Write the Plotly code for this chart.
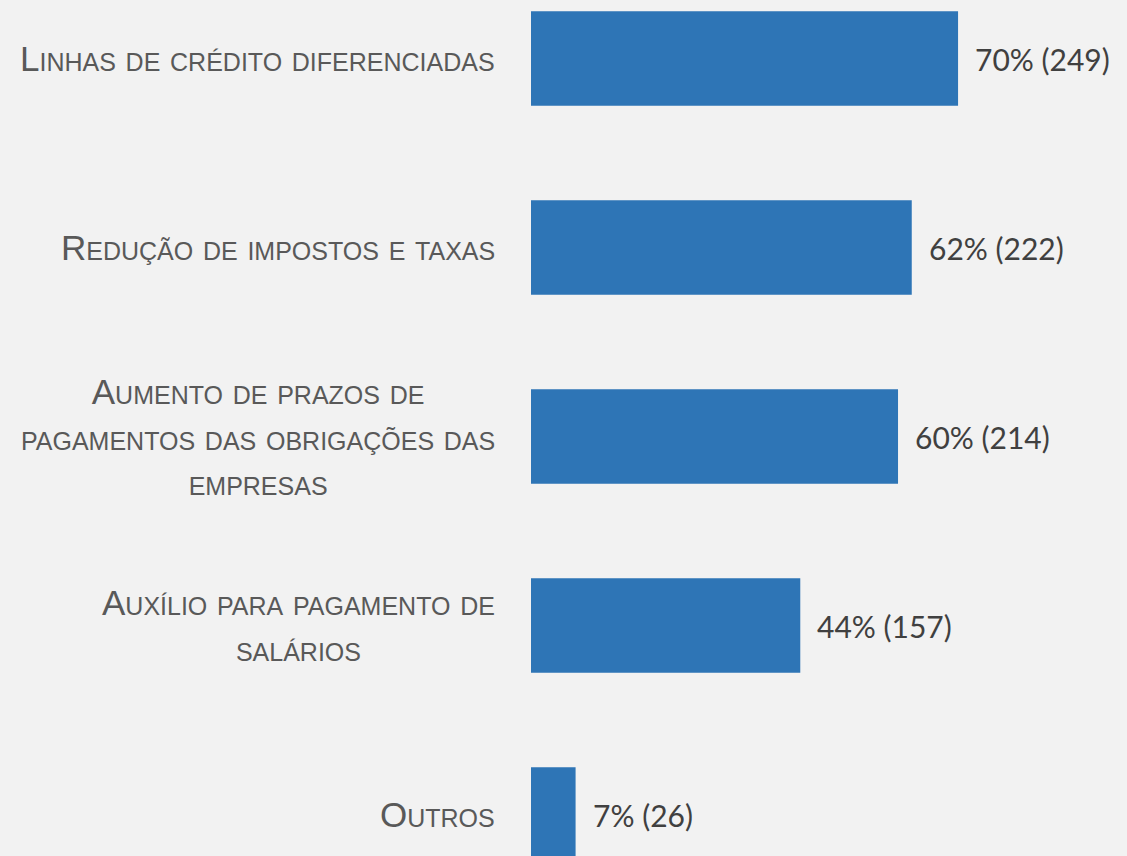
import plotly.graph_objects as go

categories = [
    "Linhas de crédito diferenciadas",
    "Redução de impostos e taxas",
    "Aumento de prazos de<br>pagamentos das obrigações das<br>empresas",
    "Auxílio para pagamento de<br>salários",
    "Outros",
]
counts = [249, 222, 214, 157, 26]
percents = [70, 62, 60, 44, 7]

BAR_COLOR = "#2e75b6"
BG = "#f2f2f2"

fig = go.Figure()
fig.add_trace(go.Bar(
    y=categories, x=counts, orientation="h",
    marker=dict(color=BAR_COLOR, line=dict(width=0)),
    width=0.5, hoverinfo="skip",
))

for cat, c, p in zip(categories, counts, percents):
    fig.add_annotation(
        x=c, y=cat, xref="x", yref="y", text=f"{p}% ({c})",
        showarrow=False, xanchor="left", yanchor="middle", xshift=15,
        font=dict(family="Lato", size=30, color="#404040"),
    )
    fig.add_annotation(
        x=0, y=cat, xref="x", yref="y", text=cat,
        showarrow=False, xanchor="right", yanchor="middle", xshift=-34,
        align="center",
        font=dict(family="Liberation Sans", size=35, color="#595959", variant="small-caps"),
    )

fig.update_layout(
    width=1127, height=856,
    margin=dict(l=531, r=0, t=0, b=0),
    paper_bgcolor=BG, plot_bgcolor=BG,
    showlegend=False,
    xaxis=dict(range=[0, 347.5], visible=False, showgrid=False, zeroline=False),
    yaxis=dict(categoryorder="array", categoryarray=categories,
               range=[4.2196, -0.3095], showticklabels=False,
               showgrid=False, zeroline=False, ticks=""),
)

fig.write_html(
    "out.html",
    config={"displayModeBar": False},
    post_script="document.body.style.margin='0';document.body.style.overflow='hidden';",
)
